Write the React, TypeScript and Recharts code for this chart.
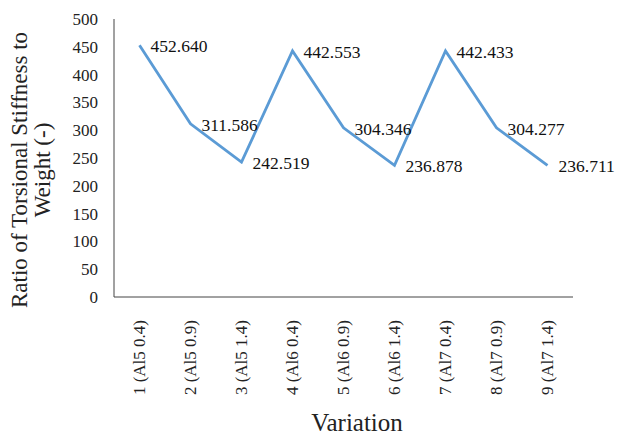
import React from 'react';
import { LineChart, Line, XAxis, YAxis, LabelList } from 'recharts';

const categories = [
  '1 (Al5 0.4)', '2 (Al5 0.9)', '3 (Al5 1.4)',
  '4 (Al6 0.4)', '5 (Al6 0.9)', '6 (Al6 1.4)',
  '7 (Al7 0.4)', '8 (Al7 0.9)', '9 (Al7 1.4)',
];
const ratios = [452.640, 311.586, 242.519, 442.553, 304.346, 236.878, 442.433, 304.277, 236.711];
const yTicks = [0, 50, 100, 150, 200, 250, 300, 350, 400, 450, 500];

const data = categories.map((name, i) => ({ name, ratio: ratios[i] }));

const FONT = '"Liberation Serif", "Times New Roman", serif';

// rotated category label, reads bottom to top
const RotatedTick = (props: any) => {
  const { x, y, payload } = props;
  return (
    <text
      x={0}
      y={0}
      transform={`translate(${x},${y + 15}) rotate(-90)`}
      textAnchor="end"
      dominantBaseline="central"
      fontFamily={FONT}
      fontSize={17}
      fill="#222"
    >
      {payload.value}
    </text>
  );
};

const ValueLabel = (props: any) => {
  const { x, y, value } = props;
  return (
    <text x={x + 11} y={y + 1} dominantBaseline="central" fontFamily={FONT} fontSize={17.5} fill="#111">
      {value.toFixed(3)}
    </text>
  );
};

const App: React.FC = () => {
  return (
    <div style={{ position: 'absolute', left: 0, top: 0, width: 630, height: 435, background: '#fff' }}>
      <LineChart width={630} height={435} data={data} margin={{ top: 19, right: 57, left: 0, bottom: 0 }}>
        <XAxis
          dataKey="name"
          stroke="#444"
          tickLine={false}
          interval={0}
          padding={{ left: 25.5, right: 25.5 }}
          tick={<RotatedTick />}
          height={138}
          label={() => (
            <text x={357} y={431} textAnchor="middle" fontFamily={FONT} fontSize={25} fill="#222">
              Variation
            </text>
          )}
        />
        <YAxis
          width={114}
          domain={[0, 500]}
          ticks={yTicks}
          interval={0}
          stroke="#444"
          tickLine={false}
          tickSize={14}
          tickMargin={2}
          tick={{ fontFamily: FONT, fontSize: 17, fill: '#222' }}
          label={() => (
            <g>
              <text
                transform="translate(27,170) rotate(-90)"
                textAnchor="middle"
                fontFamily={FONT}
                fontSize={23}
                fill="#222"
              >
                Ratio of Torsional Stiffness to
              </text>
              <text
                transform="translate(50,170) rotate(-90)"
                textAnchor="middle"
                fontFamily={FONT}
                fontSize={23}
                fill="#222"
              >
                Weight (-)
              </text>
            </g>
          )}
        />
        <Line
          type="linear"
          dataKey="ratio"
          stroke="#5B9BD5"
          strokeWidth={2.8}
          dot={false}
          isAnimationActive={false}
        >
          <LabelList dataKey="ratio" content={<ValueLabel />} />
        </Line>
      </LineChart>
    </div>
  );
};

export default App;
